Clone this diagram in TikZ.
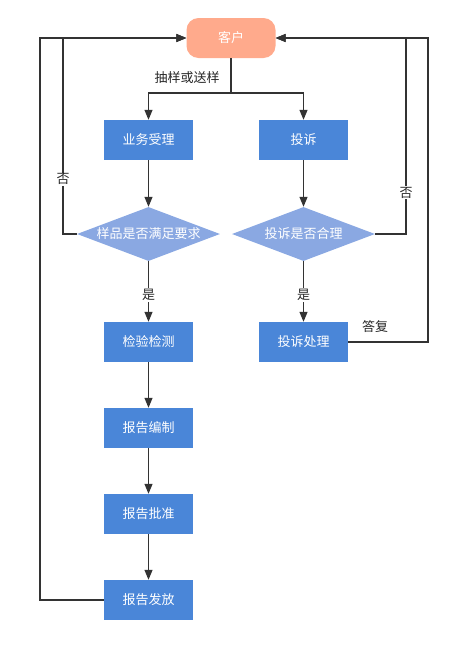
\documentclass[tikz,border=0pt]{standalone}
\usepackage{fontspec}
\setmainfont{Noto Sans CJK SC}
\usetikzlibrary{arrows.meta,shapes.geometric,positioning}
\definecolor{boxblue}{HTML}{4A86D8}
\definecolor{diablue}{HTML}{8AA8E2}
\definecolor{salmon}{HTML}{FFAA8C}
\definecolor{linegray}{HTML}{333333}
\tikzset{
  procbox/.style={rectangle,fill=boxblue,text=white,minimum width=89pt,minimum height=40pt,inner sep=0pt,font=\fontsize{13}{15}\selectfont},
  decide/.style={diamond,fill=diablue,text=white,minimum width=143pt,minimum height=54pt,aspect=2.65,inner sep=0pt,font=\fontsize{13}{15}\selectfont},
  startbox/.style={rectangle,rounded corners=12pt,fill=salmon,text=white,minimum width=89pt,minimum height=40pt,inner sep=0pt,font=\fontsize{13}{15}\selectfont},
  conn/.style={draw=linegray,line width=1.2pt,-{Triangle[length=10pt,width=8pt]}},
  plain/.style={draw=linegray,line width=1.2pt},
  lbl/.style={fill=white,inner sep=1pt,text=black!85,font=\fontsize{13}{15}\selectfont},
}
\begin{document}
\begin{tikzpicture}[x=1pt,y=-1pt]
\useasboundingbox (0,0) rectangle (459,645);
\node[startbox] (kehu) at (231,38) {客户};
\node[procbox] (yewu) at (148.5,140) {业务受理};
\node[procbox] (tousu) at (303.5,140) {投诉};
\node[decide] (d1) at (148.5,234) {样品是否满足要求};
\node[decide] (d2) at (303.5,234) {投诉是否合理};
\node[procbox] (jianyan) at (148.5,342) {检验检测};
\node[procbox] (chuli) at (303.5,342) {投诉处理};
\node[procbox] (bianzhi) at (148.5,428) {报告编制};
\node[procbox] (pizhun) at (148.5,514) {报告批准};
\node[procbox] (fafang) at (148.5,600) {报告发放};
\coordinate (split) at (231,93);
\node[text=black!85,font=\fontsize{13}{15}\selectfont] (chouyang) at (187,78) {抽样或送样};

\draw[plain] (kehu.south) -- (split);
\draw[conn] (split) -| (yewu.north);
\draw[conn] (split) -| (tousu.north);
\draw[conn] (yewu) -- (d1);
\draw[conn] (tousu) -- (d2);
\draw[conn] (d1) -- node[lbl,pos=0.56] (shi1) {是} (jianyan);
\draw[conn] (d2) -- node[lbl,pos=0.56] (shi2) {是} (chuli);
\draw[conn] (jianyan) -- (bianzhi);
\draw[conn] (bianzhi) -- (pizhun);
\draw[conn] (pizhun) -- (fafang);
% feedback loops
\draw[conn] (fafang.west) -- (40,600) -- (40,38) -- (kehu.west);
\draw[conn] (d1.west) -- (63,234) -- node[lbl,pos=0.28] (fou1) {否} (63,38) -- (kehu.west);
\draw[conn] (chuli.east) -- (428,342) -- (428,38) -- (kehu.east);
\draw[conn] (d2.east) -- (406,234) -- node[lbl,pos=0.21] (fou2) {否} (406,38) -- (kehu.east);
\node[text=black!85,font=\fontsize{13}{15}\selectfont] (dafu) at (375,327) {答复};
\end{tikzpicture}
\end{document}
